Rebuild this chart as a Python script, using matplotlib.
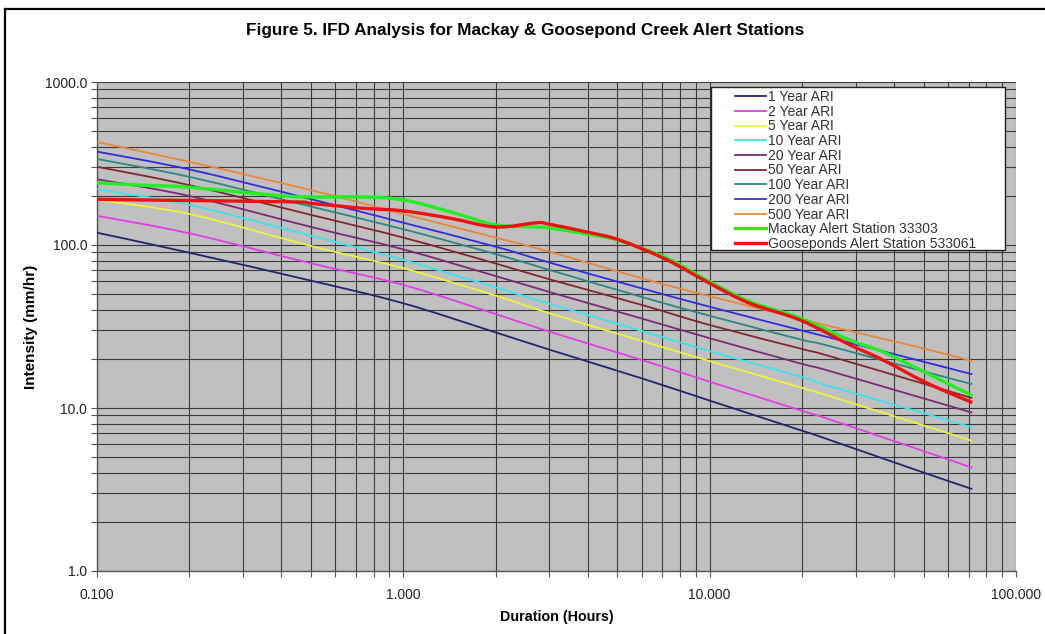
import numpy as np
import matplotlib
matplotlib.use("Agg")
import matplotlib.pyplot as plt
from matplotlib.ticker import LogLocator, FixedLocator, FormatStrFormatter, NullFormatter
from matplotlib.lines import Line2D
from matplotlib.path import Path
from matplotlib.patches import PathPatch, Rectangle

plt.rcParams['font.family'] = ['Liberation Sans', 'DejaVu Sans']

# durations (hours) for the ARI design curves
durations = [0.1, 0.2, 0.5, 1, 2, 3, 6, 10, 19.7, 24, 48, 72]

ari_1 = [119, 89.7, 60.4, 43.9, 29.1, 22.8, 15.2, 11.1, 7.33, 6.48, 4.12, 3.18]
ari_2 = [151, 118, 77.2, 56.9, 37.7, 29.4, 19.7, 14.5, 9.7, 8.65, 5.58, 4.3]
ari_5 = [189, 155, 98.6, 72, 48.9, 38.1, 25.8, 19.4, 13.4, 12.0, 8.0, 6.28]
ari_10 = [220, 176, 114, 80.9, 55, 43.6, 29.7, 22.3, 15.6, 13.8, 9.5, 7.6]
ari_20 = [253, 200, 129, 94, 64.5, 51.5, 35.4, 26.8, 18.8, 17.1, 11.7, 9.36]
ari_50 = [302, 233, 153, 111, 77, 61.6, 42.9, 32.3, 23.2, 21.1, 14.4, 11.5]
ari_100 = [337, 262, 172, 125, 88, 70.3, 48, 36.8, 26.4, 24.3, 17.1, 14.0]
ari_200 = [374, 291, 191, 137, 97.7, 78, 54.2, 41.8, 30.1, 27.4, 19.6, 16.1]
ari_500 = [428, 324, 217, 155, 111, 91, 62.5, 48.5, 35.4, 32.2, 23.6, 19.4]

# station maximum intensities
mackay_dur = [0.1, 0.138, 0.2, 0.427, 0.738, 1.0, 1.42, 2.0, 2.73, 3.0, 4.07, 5.1,
              7.26, 10, 13.5, 19.7, 28.7, 36.8, 51.3, 72]
mackay_int = [241, 233, 226, 199, 197, 189, 160, 133, 129, 127, 116, 106,
              83, 59.5, 45, 35.7, 26.1, 22.1, 16.3, 11.9]

goose_dur = [0.1, 0.138, 0.427, 0.5, 0.738, 1.0, 1.42, 2.0, 2.73, 3.0, 4.07, 5.1,
             7.26, 10, 13.5, 19.7, 28.7, 36.8, 51.3, 72]
goose_int = [191, 189, 184, 180, 168, 162, 146, 129, 137, 134, 119, 107,
             81, 58.2, 43.9, 34.7, 24.4, 19.7, 14.2, 10.8]

labels = ["1 Year ARI", "2 Year ARI", "5 Year ARI", "10 Year ARI", "20 Year ARI",
          "50 Year ARI", "100 Year ARI", "200 Year ARI", "500 Year ARI",
          "Mackay Alert Station 33303", "Gooseponds Alert Station 533061"]
colors = ["#24246E", "#E63CE6", "#F2F23C", "#3CE4EA", "#7A2A7A",
          "#7E2A2A", "#2E8686", "#2E2EE0", "#E8873C", "#22EE22", "#EE1111"]


def smooth_path(xs, ys):
    # smoothed line like Excel: Catmull-Rom bezier in log-log space
    lx, ly = np.log10(xs), np.log10(ys)
    n = len(lx)
    verts = [(lx[0], ly[0])]
    codes = [Path.MOVETO]
    for i in range(n - 1):
        a = max(i - 1, 0)
        b = min(i + 2, n - 1)
        c1 = (lx[i] + (lx[i + 1] - lx[a]) / 6, ly[i] + (ly[i + 1] - ly[a]) / 6)
        c2 = (lx[i + 1] - (lx[b] - lx[i]) / 6, ly[i + 1] - (ly[b] - ly[i]) / 6)
        verts += [c1, c2, (lx[i + 1], ly[i + 1])]
        codes += [Path.CURVE4] * 3
    return Path(10 ** np.array(verts), codes)


fig = plt.figure(figsize=(10.45, 6.34), dpi=100)
ax = fig.add_axes([97/1045, 1 - 571/634, 919/1045, 489/634])
ax.set_facecolor("#C0C0C0")

ax.set_xscale("log")
ax.set_yscale("log")

ari_series = [ari_1, ari_2, ari_5, ari_10, ari_20, ari_50, ari_100, ari_200, ari_500]
handles = []
for vals, col in zip(ari_series, colors[:9]):
    ax.add_patch(PathPatch(smooth_path(durations, vals), fill=False, edgecolor=col,
                           lw=1.3, zorder=3, capstyle="butt"))
    handles.append(Line2D([], [], color=col, lw=1.3))
for d, v, col, z in [(mackay_dur, mackay_int, colors[9], 4), (goose_dur, goose_int, colors[10], 5)]:
    ax.add_patch(PathPatch(smooth_path(d, v), fill=False, edgecolor=col, lw=2.4,
                           zorder=z, capstyle="butt", joinstyle="round"))
    handles.append(Line2D([], [], color=col, lw=2.4))

ax.set_xlim(0.1, 100)
ax.set_ylim(1, 1000)

ax.xaxis.set_major_locator(FixedLocator([0.1, 1, 10, 100]))
ax.yaxis.set_major_locator(FixedLocator([1, 10, 100, 1000]))
ax.xaxis.set_minor_locator(LogLocator(base=10, subs=np.arange(2, 10)))
ax.yaxis.set_minor_locator(LogLocator(base=10, subs=np.arange(2, 10)))
ax.xaxis.set_major_formatter(FormatStrFormatter("%.3f"))
ax.yaxis.set_major_formatter(FormatStrFormatter("%.1f"))
ax.xaxis.set_minor_formatter(NullFormatter())
ax.yaxis.set_minor_formatter(NullFormatter())

ax.grid(True, which="both", color="#3C3C3C", lw=0.8, zorder=1)
ax.set_axisbelow(True)
ax.tick_params(which="both", direction="out", length=4, width=0.8, color="#555555",
               labelsize=10, labelcolor="#222222")
ax.tick_params(axis="x", pad=8)
ax.tick_params(axis="y", pad=3)
for s in ["top", "right"]:
    ax.spines[s].set_visible(False)
for s in ["left", "bottom"]:
    ax.spines[s].set_color("#555555")
    ax.spines[s].set_linewidth(1.0)

ax.set_xlabel("Duration (Hours)", fontsize=10.3, fontweight="bold", labelpad=6)
ax.set_ylabel("Intensity (mm/hr)", fontsize=11, fontweight="bold", labelpad=5)

fig.text(525/1045, 1 - 31/634, "Figure 5. IFD Analysis for Mackay & Goosepond Creek Alert Stations",
         ha="center", va="center", fontsize=12.3, fontweight="bold")

# legend box (white frame) with entries placed inside
ax.add_patch(Rectangle((614/919, 1 - 168/489), 294/919, 163/489, transform=ax.transAxes,
                       facecolor="white", edgecolor="#222222", lw=1.0, zorder=10))
leg = ax.legend(handles, labels, loc="upper left", bbox_to_anchor=(638/919, 1 - 8/489),
                borderaxespad=0, borderpad=0, fontsize=10, handlelength=2.2,
                handletextpad=0.2, labelspacing=0.05, frameon=False)
leg.set_zorder(11)
for t in leg.get_texts():
    t.set_color("#333333")

# outer chart border (top and left visible in the screenshot)
fig.add_artist(Line2D([5/1045, 1.0], [1 - 9/634, 1 - 9/634], transform=fig.transFigure,
                      color="black", lw=1.6))
fig.add_artist(Line2D([5/1045, 5/1045], [0.0, 1 - 9/634], transform=fig.transFigure,
                      color="black", lw=1.6))

fig.savefig("out.png", dpi=100)
